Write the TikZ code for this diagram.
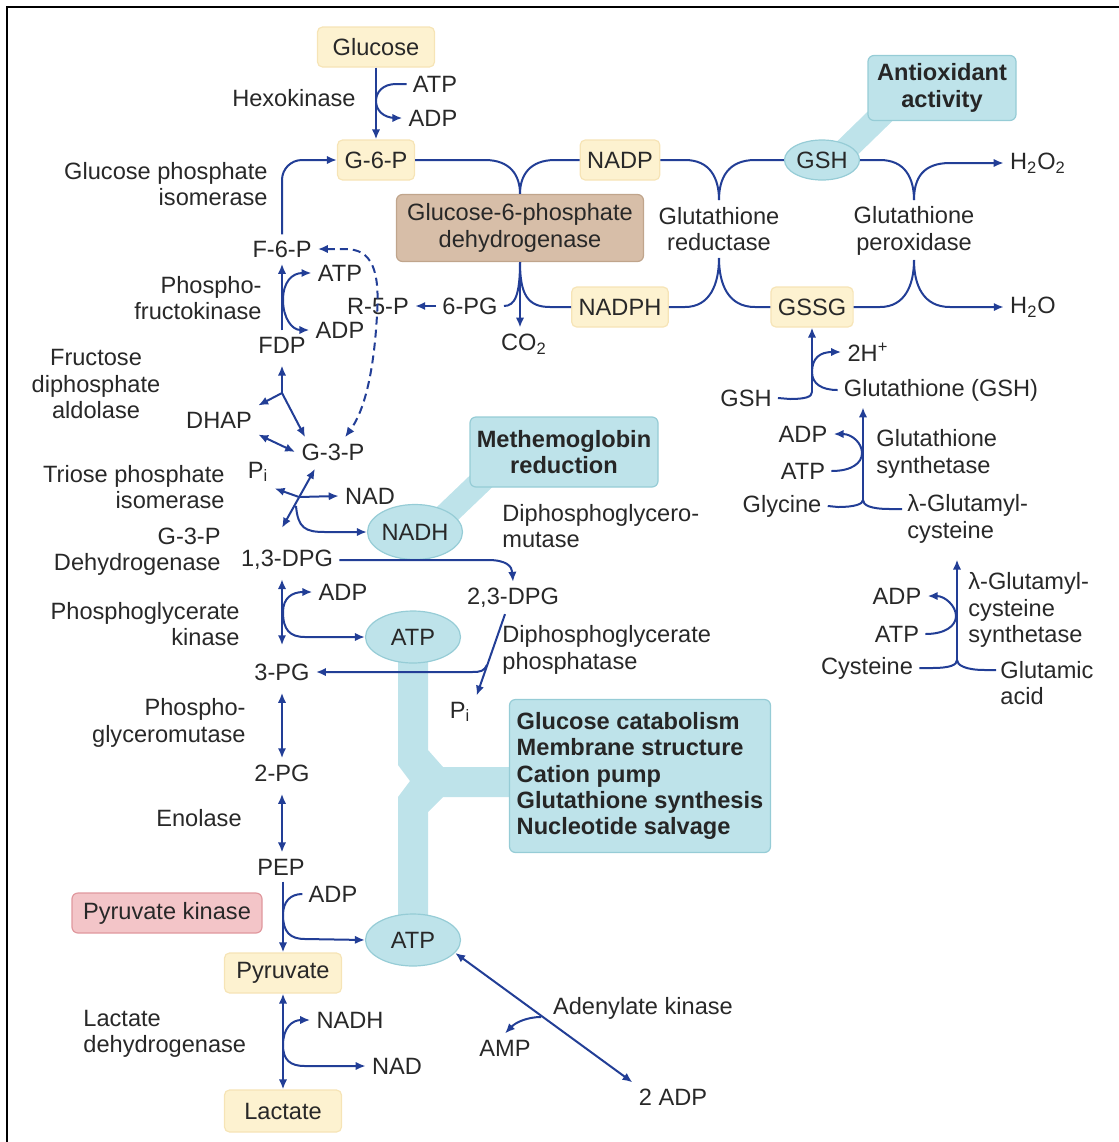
\documentclass[tikz,border=0pt]{standalone}
\usepackage{fontspec}
\setmainfont{Liberation Sans}
\usetikzlibrary{shapes.geometric,arrows.meta,calc}
\definecolor{pathblue}{RGB}{34,62,150}
\definecolor{inkgray}{RGB}{40,40,40}
\definecolor{metabfill}{RGB}{253,242,208}
\definecolor{metabline}{RGB}{246,228,182}
\definecolor{rolefill}{RGB}{190,227,234}
\definecolor{roleline}{RGB}{150,204,214}
\definecolor{tanfill}{RGB}{215,190,168}
\definecolor{tanline}{RGB}{192,165,140}
\definecolor{pinkfill}{RGB}{243,197,200}
\definecolor{pinkline}{RGB}{224,152,158}
\newcommand{\lblfont}{\fontsize{11.8}{13.2}\selectfont}

\begin{document}
\begin{tikzpicture}[x=0.5pt, y=-0.5pt,
  >={Latex[length=5pt,width=4.2pt]},
  every node/.style={font=\lblfont, text=inkgray, inner sep=0pt},
  chem/.style={inner sep=3pt},
  metab/.style={draw=metabline, fill=metabfill, rounded corners=2.5pt, minimum height=20pt, inner xsep=3.5pt, line width=0.6pt},
  enzbox/.style={rounded corners=3pt, minimum height=20pt, line width=0.6pt},
  role/.style={draw=roleline, fill=rolefill, rounded corners=3pt, font=\lblfont\bfseries, text=black!85, align=center, line width=0.6pt},
  pool/.style={ellipse, draw=roleline, fill=rolefill, line width=0.6pt, minimum width=47.5pt, minimum height=26pt},
  flow/.style={draw=pathblue, line width=1pt},
  band/.style={fill=rolefill}]

  \useasboundingbox (0,0) rectangle (1119,1142);
  \draw[line width=1pt] (7,1142) -- (7,7) -- (1119,7);

  % broad links to the roles
  \fill[band] (398,650) -- (428,650) -- (428,750) -- (443,767) -- (510,767) -- (510,797) -- (443,797) -- (428,812)
    -- (428,920) -- (398,920) -- (398,797) -- (410,781) -- (398,765) -- cycle;
  \draw[rolefill, line width=12pt] (830,165) -- (905,92);
  \draw[rolefill, line width=12pt] (425,535) -- (495,468);

  % boxes
  \node[metab, minimum width=58.5pt] (glucose) at (376,47) {Glucose};
  \node[metab] (g6p) at (376,160) {G-6-P};
  \node[metab] (nadp) at (620,160) {NADP};
  \node[metab] (nadph) at (620,307) {NADPH};
  \node[metab] (gssg) at (812,307) {GSSG};
  \node[metab, minimum width=58.5pt] (pyruvate) at (283,973) {Pyruvate};
  \node[metab, minimum width=58.5pt, minimum height=21pt] (lactate) at (283,1111) {Lactate};
  \node[enzbox, draw=tanline, fill=tanfill, minimum width=123.5pt, minimum height=33.5pt, align=center] (g6pd) at (520,228) {Glucose-6-phosphate\\dehydrogenase};
  \node[enzbox, draw=pinkline, fill=pinkfill, minimum width=95pt] (pkbox) at (167,913) {Pyruvate kinase};
  \node[role, minimum width=74pt, minimum height=32.5pt] (antiox) at (942,88) {Antioxidant\\activity};
  \node[role, minimum width=94pt, minimum height=35pt] (methb) at (564,452) {Methemoglobin\\reduction};
  \node[role, align=left, minimum width=130.5pt, minimum height=76.5pt] (atpuse) at (640,776)
    {Glucose catabolism\\Membrane structure\\Cation pump\\Glutathione synthesis\\Nucleotide salvage};
  \node[pool, minimum width=37.5pt, minimum height=20pt] (gsh) at (822,160) {GSH};
  \node[pool, minimum height=27.5pt] (nadh1) at (415,532) {NADH};
  \node[pool] (atp1) at (413,637) {ATP};
  \node[pool] (atp2) at (413,940) {ATP};

  % metabolites
  \node[chem] (hkatp) at (435,84) {ATP};
  \node[chem] (hkadp) at (433,118) {ADP};
  \node[chem] (f6p) at (282,249) {F-6-P};
  \node[chem] (pfkatp) at (340,273) {ATP};
  \node[chem] (pfkadp) at (340,330) {ADP};
  \node[chem] (fdp) at (282,345) {FDP};
  \node[chem] (r5p) at (378,306) {R-5-P};
  \node[chem] (pg6) at (470,306) {6-PG};
  \node[chem] (co2) at (524,344) {CO\textsubscript{2}};
  \node[chem] (dhap) at (219,420) {DHAP};
  \node[chem] (g3p) at (333,452) {G-3-P};
  \node[chem] (pi1) at (258,472) {P\textsubscript{i}};
  \node[chem] (nad1) at (370,496) {NAD};
  \node[chem] (dpg13) at (287,560) {1,3-DPG};
  \node[chem] (dpg23) at (513,598) {2,3-DPG};
  \node[chem] (adp3) at (343,592) {ADP};
  \node[chem] (pg3) at (282,672) {3-PG};
  \node[chem] (pi2) at (460,712) {P\textsubscript{i}};
  \node[chem] (pg2) at (282,773) {2-PG};
  \node[chem] (pep) at (281,867) {PEP};
  \node[chem] (adp4) at (333,894) {ADP};
  \node[chem] (nadh2) at (350,1020) {NADH};
  \node[chem] (nad2) at (397,1066) {NAD};
  \node[chem] (amp) at (505,1048) {AMP};
  \node[chem] (adpk) at (673,1097) {2 ADP};
  \node[chem] (h2o2) at (1038,163) {H\textsubscript{2}O\textsubscript{2}};
  \node[chem] (h2o) at (1033,307) {H\textsubscript{2}O};
  \node[chem] (twoh) at (868,352) {2H\textsuperscript{+}};
  \node[chem] (glutgsh) at (941,390) {Glutathione (GSH)};
  \node[chem] (gshl) at (746,398) {GSH};
  \node[chem] (adp5) at (803,434) {ADP};
  \node[chem] (atp3) at (803,471) {ATP};
  \node[chem] (glycine) at (782,506) {Glycine};
  \node[anchor=west, align=left] (glucys) at (907,519) {λ-Glutamyl-\\cysteine};
  \node[chem] (adp6) at (897,596) {ADP};
  \node[chem] (atp4) at (897,634) {ATP};
  \node[chem] (cysteine) at (867,668) {Cysteine};
  \node[anchor=west, align=left] (gluac) at (1000,683) {Glutamic\\acid};

  % enzymes
  \node[anchor=east] (hexo) at (356,98) {Hexokinase};
  \node[anchor=east, align=right] (gpi) at (268,184) {Glucose phosphate\\isomerase};
  \node[anchor=east, align=right] (pfk) at (262,298) {Phospho-\\fructokinase};
  \node[align=center] (aldo) at (96,384) {Fructose\\diphosphate\\aldolase};
  \node[anchor=east, align=right] (tpi) at (225,487) {Triose phosphate\\isomerase};
  \node[anchor=east, align=right] (gapdh) at (221,552) {G-3-P\\Dehydrogenase};
  \node[anchor=west, align=left] (dpgm) at (502,526) {Diphosphoglycero-\\mutase};
  \node[anchor=east, align=right] (pgk) at (240,624) {Phosphoglycerate\\kinase};
  \node[anchor=west, align=left] (dpgp) at (502,650) {Diphosphoglycerate\\phosphatase};
  \node[anchor=east, align=right] (pgm) at (246,723) {Phospho-\\glyceromutase};
  \node (eno) at (199,818) {Enolase};
  \node[anchor=west, align=left] (ldh) at (83,1034) {Lactate\\dehydrogenase};
  \node (adk) at (643,1008) {Adenylate kinase};
  \node[align=center] (gr) at (719,229) {Glutathione\\reductase};
  \node[align=center] (gpx) at (914,231) {Glutathione\\peroxidase};
  \node[anchor=west, align=left] (gs) at (876,454) {Glutathione\\synthetase};
  \node[anchor=west, align=left] (gcs) at (968,610) {λ-Glutamyl-\\cysteine\\synthetase};

  % glycolysis
  \draw[flow,->] (glucose) -- (g6p);
  \coordinate (hkj) at (376,101);
  \draw[flow,->] (hkatp.west) -- (396,84) .. controls (383,84) and (376,92) .. (hkj)
    .. controls (376,110) and (383,118) .. (396,118) -- (hkadp.west);
  \draw[flow,->, rounded corners=10pt] (f6p.north) |- (g6p.west);
  \draw[flow,->] (fdp.north) -- (f6p.south);
  \coordinate (pfkj) at (283,300);
  \draw[flow,->] (pfkj) .. controls (283,282) and (292,273) .. (pfkatp.west);
  \draw[flow,->] (pfkj) .. controls (283,318) and (292,330) .. (pfkadp.west);
  \draw[flow, dash pattern=on 4pt off 2.5pt, <->] (f6p.east) -- (345,249) .. controls (372,249) and (380,270) .. (377,315)
    .. controls (374,370) and (365,410) .. ($(g3p.north)+(12,0)$);
  \coordinate (aldj) at (282,393);
  \draw[flow,->, shorten >=3pt] (aldj) -- (fdp.south);
  \draw[flow,->] (aldj) -- (dhap.north east);
  \draw[flow,->] (aldj) -- ($(g3p.north west)+(10,0)$);
  \draw[flow,<->] (dhap.south east) -- (g3p.west);
  \coordinate (gapx) at (299,497);
  \draw[flow,<->] ($(dpg13.north)+(-5,-16)$) -- ($(g3p.south)+(-18,2)$);
  \draw[flow,->] (gapx) -- (pi1.south east);
  \draw[flow,->] (gapx) -- (nad1.west);
  \draw[flow,->] (296,506) .. controls (298,528) and (305,532) .. (325,532) -- (nadh1.west);
  \draw[flow,->] (dpg13.east) -- (488,560) .. controls (506,560) and (512,566) .. (dpg23.north);
  \draw[flow,<->] ($(dpg13.south)+(-5,3)$) -- ($(pg3.north)+(0,-12)$);
  \coordinate (pgkj) at (283,612);
  \draw[flow,->] (pgkj) .. controls (283,598) and (292,592) .. (adp3.west);
  \draw[flow,->] (pgkj) .. controls (283,630) and (290,637) .. (305,637) -- (atp1.west);
  \draw[flow,->] ($(dpg23.south)+(-8,0)$) -- (pi2.north east);
  \coordinate (dpgpj) at (487,665);
  \draw[flow,->] (dpgpj) .. controls (484,671) and (481,672) .. (472,672) -- (pg3.east);
  \draw[flow,<->, shorten <=3pt] (pg3.south) -- (pg2.north);
  \draw[flow,<->, shorten <=3pt] (pg2.south) -- (pep.north -| pg2.south);
  \draw[flow,->] (pyruvate.north |- pep.south) -- (pyruvate.north);
  \coordinate (pkj) at (283,915);
  \draw[flow] (adp4.west) .. controls (290,894) and (283,902) .. (pkj);
  \draw[flow,->] (pkj) .. controls (283,932) and (290,939) .. (305,939) -- (atp2.west);
  \draw[flow,<->] (pyruvate.south) -- (lactate.north);
  \coordinate (ldhj) at (283,1045);
  \draw[flow,->] (ldhj) .. controls (283,1028) and (292,1020) .. (nadh2.west);
  \draw[flow,->] (ldhj) .. controls (283,1060) and (290,1066) .. (305,1066) -- (nad2.west);
  \draw[flow,<->] (atp2.-17) -- (adpk.north west);
  \coordinate (akj) at (541,1017);
  \draw[flow,->] (akj) .. controls (528,1017) and (516,1022) .. (amp.north);

  % pentose shunt and glutathione
  \draw[flow,->] (pg6.west) -- (r5p.east);
  \draw[flow] (g6p.east) -- (485,160) .. controls (510,160) and (520,175) .. (g6pd.north);
  \draw[flow] (nadp.west) -- (555,160) .. controls (530,160) and (520,175) .. (g6pd.north);
  \draw[flow,->] (g6pd.south) -- (g6pd.south |- co2.north);
  \draw[flow] (g6pd.south) .. controls (520,295) and (515,306) .. (pg6.east);
  \draw[flow] (g6pd.south) .. controls (520,295) and (528,307) .. (550,307) -- (nadph.west);
  \coordinate (grtop) at (719,200);
  \coordinate (grbot) at (719,258);
  \draw[flow] (nadp.east) -- (685,160) .. controls (710,160) and (719,178) .. (grtop);
  \draw[flow] (gsh.west) -- (755,160) .. controls (728,160) and (719,178) .. (grtop);
  \draw[flow] (nadph.east) -- (685,307) .. controls (710,307) and (719,284) .. (grbot);
  \draw[flow] (gssg.west) -- (755,307) .. controls (728,307) and (719,284) .. (grbot);
  \coordinate (gpxtop) at (914,200);
  \coordinate (gpxbot) at (914,260);
  \draw[flow] (gsh.east) -- (880,160) .. controls (905,160) and (914,178) .. (gpxtop);
  \draw[flow,->] (gpxtop) .. controls (914,178) and (923,163) .. (950,163) -- (h2o2.west);
  \draw[flow] (gssg.east) -- (880,307) .. controls (905,307) and (914,285) .. (gpxbot);
  \draw[flow,->] (gpxbot) .. controls (914,285) and (923,307) .. (950,307) -- (h2o.west);
  \coordinate (gsj) at (812,392);
  \coordinate (gsk) at (812,372);
  \draw[flow,->] (gsj) -- (gssg.south);
  \draw[flow] (gshl.east) -- (790,399) .. controls (805,399) and (812,397) .. (gsj);
  \draw[flow] (glutgsh.west) .. controls (822,390) and (812,384) .. (gsk);
  \draw[flow,->] (gsk) .. controls (812,358) and (820,352) .. (twoh.west);
  \coordinate (gssj) at (863,500);
  \coordinate (glucysin) at (902,509);
  \draw[flow,->] (gssj) -- (gssj |- glutgsh.south);
  \draw[flow] (glycine.east) -- (838,507) .. controls (855,507) and (863,504) .. (gssj);
  \draw[flow] (glucysin) -- (890,509) .. controls (870,509) and (863,505) .. (gssj);
  \draw[flow,->] (atp3.east) .. controls (852,471) and (862,463) .. (862,453) .. controls (862,443) and (852,434) .. (adp5.east);
  \coordinate (gcsj) at (957,660);
  \coordinate (gluacin) at (996,670);
  \draw[flow,->, shorten >=8pt] (gcsj) -- (gcsj |- glucys.south);
  \draw[flow] (cysteine.east) -- (932,668) .. controls (950,668) and (957,665) .. (gcsj);
  \draw[flow] (gluacin) -- (985,670) .. controls (965,670) and (957,665) .. (gcsj);
  \draw[flow,->] (atp4.east) .. controls (945,634) and (956,626) .. (956,616) .. controls (956,606) and (945,596) .. (adp6.east);
\end{tikzpicture}
\end{document}
